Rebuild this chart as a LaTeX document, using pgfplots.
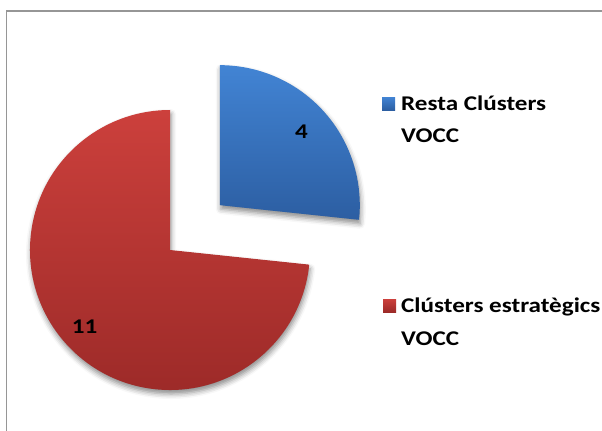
\documentclass[border=0pt]{standalone}
\usepackage{pgfplots}
\pgfplotsset{compat=1.18}
\usepackage{pgfplotstable}
\usepackage{fontspec}
\setmainfont{Carlito}[FakeStretch=1.2]
\usetikzlibrary{shadows.blur}

\definecolor{blueTop}{RGB}{66,132,212}
\definecolor{blueBot}{RGB}{44,94,162}
\definecolor{redTop}{RGB}{204,64,60}
\definecolor{redBot}{RGB}{156,42,40}
\definecolor{frameGray}{RGB}{150,150,150}

\pgfplotstableread{
label value
Resta 4
Estrategics 11
}\piedata

\begin{document}
\begin{tikzpicture}
\pgfplotstablegetelem{0}{value}\of\piedata \let\vA\pgfplotsretval
\pgfplotstablegetelem{1}{value}\of\piedata \let\vB\pgfplotsretval
\pgfmathsetmacro\total{\vA+\vB}
\pgfmathsetmacro\angA{360*\vA/\total}
\pgfmathsetmacro\endA{90-\angA}
\pgfmathsetmacro\midA{90-\angA/2}
\pgfmathsetmacro\midB{\endA-(360-\angA)/2}
\pgfmathsetmacro\Rad{140}
\pgfmathsetmacro\expl{67}
\pgfmathsetmacro\cx{170}
\pgfmathsetmacro\cy{180}
\pgfmathsetmacro\bx{\cx+\expl*cos(\midA)}
\pgfmathsetmacro\by{\cy+\expl*sin(\midA)}
\begin{axis}[
  x=1bp, y=1bp,
  xmin=0, xmax=602, ymin=0, ymax=430,
  hide axis, clip=false,
]
\coordinate (SW) at (axis cs:0,0);
\coordinate (NE) at (axis cs:602,430);
% frame
\draw[frameGray, line width=1.2bp] (axis cs:6.5,-10) -- (axis cs:6.5,419) -- (axis cs:620,419);
% red slice
\path[top color=redTop, bottom color=redBot,
  blur shadow={shadow xshift=1bp, shadow yshift=-4bp, shadow blur radius=5bp, shadow opacity=45}]
  (axis cs:\cx,\cy) -- ++(\endA:\Rad bp) arc[start angle=\endA, end angle=\endA-360+\angA, radius=\Rad bp] -- cycle;
% blue slice
\path[top color=blueTop, bottom color=blueBot,
  blur shadow={shadow xshift=1bp, shadow yshift=-4bp, shadow blur radius=5bp, shadow opacity=45}]
  (axis cs:\bx,\by) -- ++(90:\Rad bp) arc[start angle=90, end angle=\endA, radius=\Rad bp] -- cycle;
% value labels
\node[font=\fontsize{21}{24}\selectfont\bfseries] at (axis cs:{\bx+110*cos(\midA)},{\by+110*sin(\midA)}) {\vA};
\node[font=\fontsize{21}{24}\selectfont\bfseries] at (axis cs:{\cx+115*cos(\midB)},{\cy+115*sin(\midB)}) {\vB};
% legend
\fill[top color=blueTop, bottom color=blueBot] (axis cs:382,320) rectangle (axis cs:395,333);
\node[anchor=base west, font=\fontsize{21}{24}\selectfont\bfseries, inner sep=0pt] at (axis cs:401,320) {Resta Clústers};
\node[anchor=base west, font=\fontsize{21}{24}\selectfont\bfseries, inner sep=0pt] at (axis cs:401,288) {VOCC};
\fill[top color=redTop, bottom color=redBot] (axis cs:383,118) rectangle (axis cs:396,131);
\node[anchor=base west, font=\fontsize{21}{24}\selectfont\bfseries, inner sep=0pt] at (axis cs:401,118) {Clústers estratègics};
\node[anchor=base west, font=\fontsize{21}{24}\selectfont\bfseries, inner sep=0pt] at (axis cs:401,85) {VOCC};
\end{axis}
\pgfresetboundingbox
\path (SW) rectangle (NE);
\end{tikzpicture}
\end{document}
